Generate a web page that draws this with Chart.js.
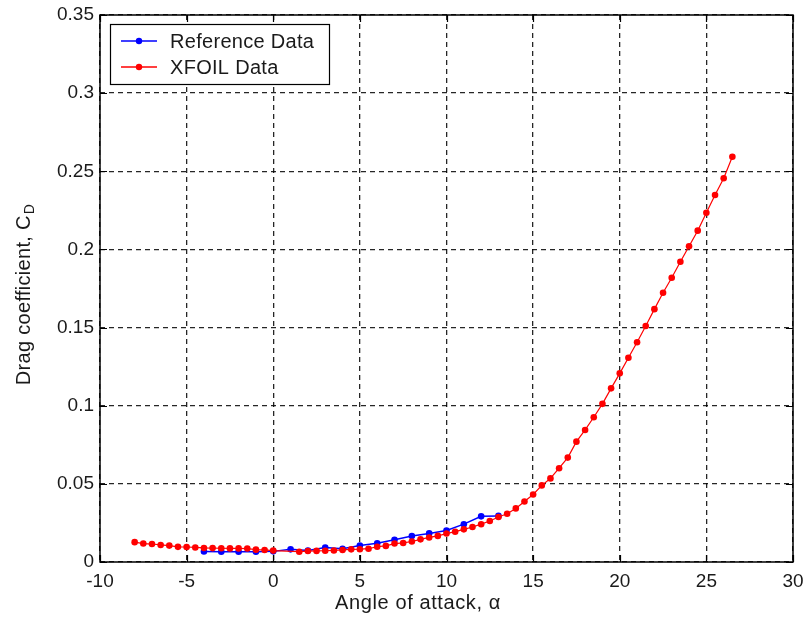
<!DOCTYPE html>
<html>
<head>
<meta charset="utf-8">
<script src="https://cdn.jsdelivr.net/npm/chart.js@4/dist/chart.umd.min.js"></script>
<style>
  html, body { margin: 0; padding: 0; background: #fff; }
  #wrap { width: 806px; height: 619px; }
</style>
</head>
<body>
<div id="wrap"><canvas id="c" width="806" height="619"></canvas></div>
<script>
// ---- data ----
const alphaXfoil = [-8,-7.5,-7,-6.5,-6,-5.5,-5,-4.5,-4,-3.5,-3,-2.5,-2,-1.5,-1,-0.5,0,
  1.5,2,2.5,3,3.5,4,4.5,5,5.5,6,6.5,7,7.5,8,8.5,9,9.5,10,10.5,11,11.5,12,12.5,13,13.5,
  14,14.5,15,15.5,16,16.5,17,17.5,18,18.5,19,19.5,20,20.5,21,21.5,22,22.5,23,23.5,24,
  24.5,25,25.5,26,26.5];
const cdXfoil = [0.0127,0.0118,0.0115,0.0109,0.0105,0.0097,0.0096,0.0093,0.0090,0.0089,
  0.0088,0.0087,0.0087,0.0086,0.0079,0.0077,0.0073,
  0.0066,0.0070,0.0071,0.0072,0.0074,0.0077,0.0081,0.0082,0.0085,0.0098,0.0103,0.0118,
  0.0122,0.0131,0.0145,0.0157,0.0167,0.0182,0.0194,0.0209,0.0224,0.0242,0.0262,0.0288,
  0.0309,0.0343,0.0387,0.0432,0.0490,0.0535,0.0600,0.0668,0.0770,0.0845,0.0926,0.1012,
  0.1111,0.1207,0.1307,0.1406,0.1510,0.1618,0.1723,0.1819,0.1921,0.2020,0.2120,0.2235,
  0.2348,0.2455,0.2593];
const alphaRef = [-4,-3,-2,-1,0,1,2,3,4,5,6,7,8,9,10,11,12,13];
const cdRef = [0.0067,0.0066,0.0066,0.0066,0.0068,0.0081,0.0073,0.0092,0.0085,0.0105,
  0.0120,0.0142,0.0166,0.0183,0.0202,0.0242,0.0292,0.0295];
const seriesNames = ['Reference Data', 'XFOIL Data'];
const xTickLabels = ['-10','-5','0','5','10','15','20','25','30'];
const yTickLabels = ['0','0.05','0.1','0.15','0.2','0.25','0.3','0.35'];
const xTitle = 'Angle of attack, \u03B1';
const yTitleMain = 'Drag coefficient, C';
const yTitleSub = 'D';

const FONT = "'Liberation Sans', Arial, Helvetica, sans-serif";
const TXT = '#1a1a1a';
const BLUE = '#0000ff', RED = '#ff0000';

const xTickValues = xTickLabels.map(Number);
const yTickValues = yTickLabels.map(Number);

const toPts = (xs, ys) => xs.map((x, i) => ({ x: x, y: ys[i] }));

const framePlugin = {
  id: 'frame',
  afterDraw(chart) {
    const ctx = chart.ctx;
    const a = chart.chartArea;
    const xs = chart.scales.x, ys = chart.scales.y;
    ctx.save();
    // inward ticks
    ctx.strokeStyle = '#000';
    ctx.lineWidth = 1.2;
    const tl = 7;
    ctx.beginPath();
    xTickValues.forEach(v => {
      const px = Math.round(xs.getPixelForValue(v)) + 0.5;
      ctx.moveTo(px, a.bottom); ctx.lineTo(px, a.bottom - tl);
      ctx.moveTo(px, a.top); ctx.lineTo(px, a.top + tl);
    });
    yTickValues.forEach(v => {
      const py = Math.round(ys.getPixelForValue(v)) + 0.5;
      ctx.moveTo(a.left, py); ctx.lineTo(a.left + tl, py);
      ctx.moveTo(a.right, py); ctx.lineTo(a.right - tl, py);
    });
    ctx.stroke();
    // box
    ctx.lineWidth = 1.5;
    ctx.strokeRect(a.left, a.top, a.right - a.left, a.bottom - a.top);

    // legend
    const lx = 110, ly = 24, lw = 219, lh = 60;
    ctx.fillStyle = '#fff';
    ctx.fillRect(lx, ly, lw, lh);
    ctx.lineWidth = 1.2;
    ctx.strokeStyle = '#000';
    ctx.strokeRect(lx + 0.5, ly + 0.5, lw, lh);
    const rows = [{ c: BLUE, y: 41 }, { c: RED, y: 67 }];
    rows.forEach((r, i) => {
      ctx.strokeStyle = r.c;
      ctx.lineWidth = 1.5;
      ctx.beginPath(); ctx.moveTo(121, r.y); ctx.lineTo(157, r.y); ctx.stroke();
      ctx.fillStyle = r.c;
      ctx.beginPath(); ctx.arc(139, r.y, 3.2, 0, Math.PI * 2); ctx.fill();
      ctx.fillStyle = TXT;
      ctx.font = '20px ' + FONT;
      ctx.letterSpacing = '0.3px';
      ctx.textAlign = 'left';
      ctx.textBaseline = 'middle';
      ctx.fillText(seriesNames[i], 170, r.y + 1);
    });

    // x title
    ctx.fillStyle = TXT;
    ctx.font = '20px ' + FONT;
    ctx.letterSpacing = '0.6px';
    ctx.textAlign = 'center';
    ctx.textBaseline = 'middle';
    ctx.fillText(xTitle, 418, 603);

    // y title with subscript
    ctx.letterSpacing = '0.3px';
    ctx.translate(24, 295);
    ctx.rotate(-Math.PI / 2);
    ctx.font = '20px ' + FONT;
    const wMain = ctx.measureText(yTitleMain).width;
    ctx.font = '14px ' + FONT;
    const wSub = ctx.measureText(yTitleSub).width;
    const start = -(wMain + wSub) / 2;
    ctx.textAlign = 'left';
    ctx.textBaseline = 'middle';
    ctx.font = '20px ' + FONT;
    ctx.fillText(yTitleMain, start, 0);
    ctx.font = '14px ' + FONT;
    ctx.fillText(yTitleSub, start + wMain + 1, 6);
    ctx.restore();
  }
};

new Chart(document.getElementById('c'), {
  type: 'line',
  data: {
    datasets: [
      {
        label: seriesNames[1],
        data: toPts(alphaXfoil, cdXfoil),
        borderColor: RED, backgroundColor: RED,
        borderWidth: 1.2, pointRadius: 3.3, pointBorderWidth: 0,
        pointBackgroundColor: RED, tension: 0, fill: false
      },
      {
        label: seriesNames[0],
        data: toPts(alphaRef, cdRef),
        borderColor: BLUE, backgroundColor: BLUE,
        borderWidth: 1.5, pointRadius: 3.3, pointBorderWidth: 0,
        pointBackgroundColor: BLUE, tension: 0, fill: false
      }
    ]
  },
  options: {
    responsive: false,
    animation: false,
    devicePixelRatio: 1,
    layout: { padding: { top: 15, right: 13, left: 0, bottom: 0 } },
    plugins: { legend: { display: false }, tooltip: { enabled: false }, title: { display: false } },
    scales: {
      x: {
        type: 'linear', min: -10, max: 30,
        afterBuildTicks: s => { s.ticks = xTickValues.map(v => ({ value: v })); },
        afterFit: s => { s.height = 57; s.paddingLeft = 0; s.paddingRight = 0; },
        ticks: {
          callback: (v, i) => xTickLabels[i],
          font: { family: FONT, size: 19 }, color: TXT, padding: 8, maxRotation: 0
        },
        grid: { color: 'rgba(0,0,0,0.85)', lineWidth: 1.3, drawTicks: false },
        border: { display: false, dash: [5, 4] }
      },
      y: {
        type: 'linear', min: 0, max: 0.35,
        afterBuildTicks: s => { s.ticks = yTickValues.map(v => ({ value: v })); },
        afterFit: s => { s.width = 100; s.paddingTop = 0; s.paddingBottom = 0; },
        ticks: {
          callback: (v, i) => yTickLabels[i],
          font: { family: FONT, size: 19 }, color: TXT, padding: 6
        },
        grid: { color: 'rgba(0,0,0,0.85)', lineWidth: 1.3, drawTicks: false },
        border: { display: false, dash: [5, 4] }
      }
    }
  },
  plugins: [framePlugin]
});
</script>
</body>
</html>
